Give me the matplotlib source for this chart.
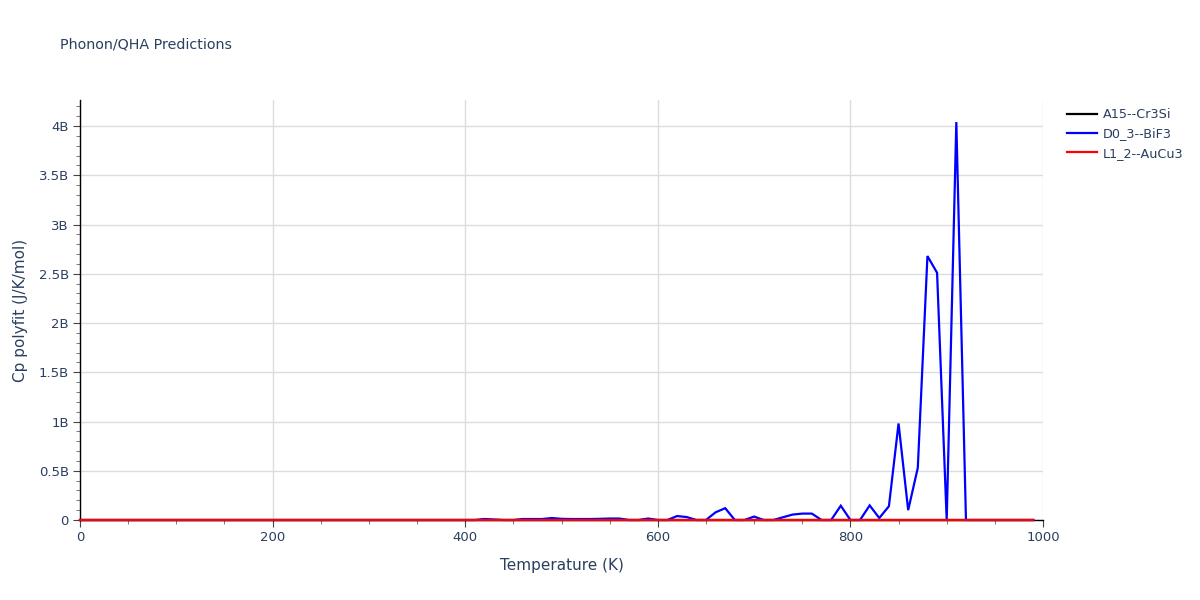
import matplotlib
matplotlib.use("Agg")
import matplotlib.pyplot as plt
from matplotlib.ticker import MultipleLocator, FuncFormatter

temperature = list(range(0, 1000, 10))

# D0_3--BiF3 values in billions (J/K/mol)
bif3_by_T = {
    420: 0.01, 430: 0.005, 460: 0.01, 470: 0.01, 480: 0.01, 490: 0.02,
    500: 0.012, 510: 0.01, 520: 0.01, 530: 0.01, 540: 0.012, 550: 0.015,
    560: 0.015, 590: 0.015, 620: 0.04, 630: 0.03, 660: 0.078, 670: 0.12,
    700: 0.035, 730: 0.028, 740: 0.055, 750: 0.065, 760: 0.065, 790: 0.145,
    820: 0.148, 830: 0.02, 840: 0.14, 850: 0.98, 860: 0.10, 870: 0.53,
    880: 2.68, 890: 2.51, 910: 4.04,
}
bif3 = [bif3_by_T.get(t, 0.0) * 1e9 for t in temperature]
cr3si = [0.0 for t in temperature]
aucu3 = [0.0 for t in temperature]

series_names = ["A15--Cr3Si", "D0_3--BiF3", "L1_2--AuCu3"]
series_colors = ["black", "blue", "red"]

text_color = "#2a3f5f"
plt.rcParams['font.family'] = ['DejaVu Sans']

fig = plt.figure(figsize=(12, 6), dpi=100)
ax = fig.add_axes([80/1200, 80/600, 963/1200, 420/600])

for name, vals, col in zip(series_names, [cr3si, bif3, aucu3], series_colors):
    ax.plot(temperature, vals, color=col, lw=1.6, label=name,
            solid_joinstyle='miter', clip_on=False, zorder=5)

ax.set_xlim(0, 1000)
ax.set_ylim(0, 4.264e9)
ax.xaxis.set_major_locator(MultipleLocator(200))
ax.xaxis.set_minor_locator(MultipleLocator(50))
ax.yaxis.set_major_locator(MultipleLocator(0.5e9))
ax.yaxis.set_minor_locator(MultipleLocator(0.1e9))

def yfmt(v, pos):
    if abs(v) < 1:
        return "0"
    b = v / 1e9
    s = ("%.1f" % b).rstrip('0').rstrip('.')
    return s + "B"

ax.yaxis.set_major_formatter(FuncFormatter(yfmt))
ax.grid(True, which='major', color='#dcdcdc', lw=1)
ax.set_axisbelow(True)
for s in ['top', 'right']:
    ax.spines[s].set_visible(False)
for s in ['left', 'bottom']:
    ax.spines[s].set_color('black')
    ax.spines[s].set_linewidth(1)
    ax.spines[s].set_zorder(2)
ax.tick_params(which='major', direction='out', length=5, color='#444444', labelsize=9.5, labelcolor=text_color, pad=3)
ax.tick_params(which='minor', direction='out', length=3, color='#666666')

ax.set_xlabel("Temperature (K)", fontsize=11, color=text_color, labelpad=10)
ax.set_ylabel("Cp polyfit (J/K/mol)", fontsize=11, color=text_color, labelpad=8)
fig.text(60/1200, 1 - 45/600, "Phonon/QHA Predictions", fontsize=10.3, color=text_color, va='center', ha='left')

fig.legend(loc='upper left', bbox_to_anchor=(1062/1200, 1 - 103/600), frameon=False,
           fontsize=9.2, labelcolor=text_color, handlelength=2.3, handletextpad=0.5,
           labelspacing=0.5, borderaxespad=0)

fig.savefig("out.png", dpi=100)
